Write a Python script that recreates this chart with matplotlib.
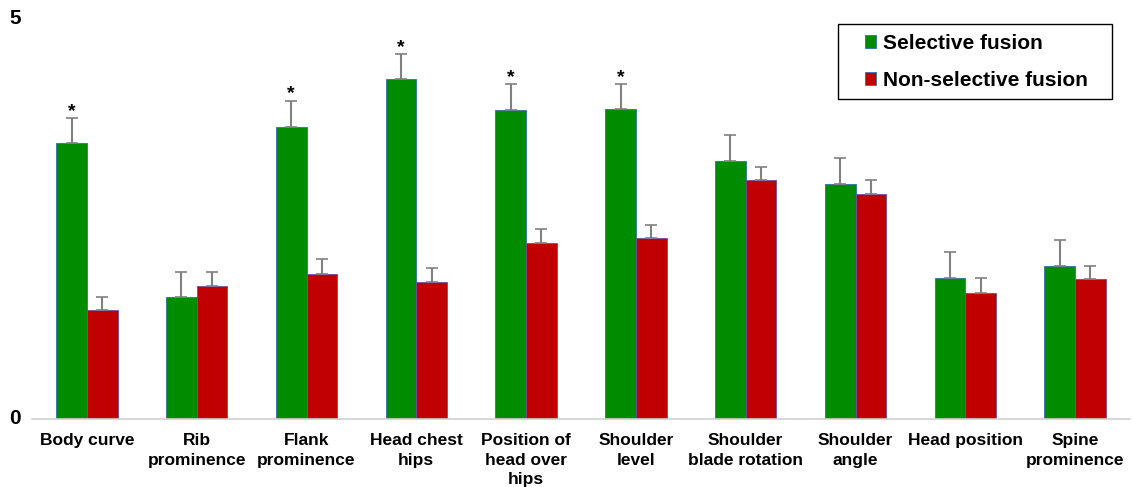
import numpy as np
import matplotlib
matplotlib.use('Agg')
import matplotlib.pyplot as plt
from matplotlib.patches import Rectangle
from matplotlib.transforms import ScaledTranslation

plt.rcParams['font.family'] = ['Liberation Sans', 'DejaVu Sans']

categories = ['Body curve', 'Rib\nprominence', 'Flank\nprominence', 'Head chest\nhips',
              'Position of\nhead over\nhips', 'Shoulder\nlevel', 'Shoulder\nblade rotation',
              'Shoulder\nangle', 'Head position', 'Spine\nprominence']
selective = [3.50, 1.54, 3.70, 4.31, 3.91, 3.93, 3.27, 2.98, 1.79, 1.94]
selective_err = [0.31, 0.32, 0.33, 0.31, 0.33, 0.31, 0.32, 0.32, 0.32, 0.32]
nonselective = [1.38, 1.68, 1.84, 1.73, 2.23, 2.29, 3.02, 2.85, 1.60, 1.77]
nonselective_err = [0.17, 0.18, 0.18, 0.18, 0.18, 0.17, 0.17, 0.18, 0.18, 0.17]
significant = [True, False, True, True, True, True, False, False, False, False]
yticks = [0, 5]

green = '#008C00'
red = '#C00000'

W, H = 1132, 487
fig = plt.figure(figsize=(W/100, H/100), dpi=100)
ax = fig.add_axes([32/W, 1-419/H, 1098/W, 395/H])

x = np.arange(len(categories))
w = 0.28
ax.bar(x - w/2, selective, w, color=green, edgecolor='#3070B0', linewidth=0.6,
       yerr=[np.zeros(len(x)), selective_err], ecolor='#808080',
       error_kw=dict(elinewidth=1.5, capsize=4, capthick=1.2), label='Selective fusion')
ax.bar(x + w/2, nonselective, w, color=red, edgecolor='#7050A0', linewidth=0.6,
       yerr=[np.zeros(len(x)), nonselective_err], ecolor='#808080',
       error_kw=dict(elinewidth=1.5, capsize=4, capthick=1.2), label='Non-selective fusion')

for i in range(len(x)):
    if significant[i]:
        ax.text(x[i] - w/2, selective[i] + selective_err[i] - 0.02, '*',
                ha='center', va='bottom', fontsize=14, fontweight='bold')

ax.set_xlim(-0.5, len(x) - 0.5)
ax.set_ylim(0, 5)
ax.set_yticks(yticks)
ax.set_yticklabels([])
# y labels as text so the top one can sit a little higher, like the original
for v in yticks:
    off = 6 if v == 5 else 0
    ax.text(-11/W * 0 - 0.0, v, str(v), fontsize=15, fontweight='bold', ha='right', va='center',
            transform=ax.get_yaxis_transform() + ScaledTranslation(-11/100, off/100, fig.dpi_scale_trans))
ax.set_xticks(x)
ax.set_xticklabels(categories, fontsize=12.5, fontweight='bold', linespacing=1.4)
ax.tick_params(axis='x', length=0, pad=10)
ax.tick_params(axis='y', length=0)
for s in ['top', 'right', 'left']:
    ax.spines[s].set_visible(False)
ax.spines['bottom'].set_color('#D0D0D0')
ax.spines['bottom'].set_linewidth(1.2)

# legend box drawn separately so the padding matches
fig.patches.append(Rectangle((838/W, 1-99/H), 274/W, 75/H, transform=fig.transFigure,
                             facecolor='white', edgecolor='black', linewidth=1.0, zorder=5))
leg = fig.legend(loc='upper left', bbox_to_anchor=(865/W, 1-34/H), bbox_transform=fig.transFigure,
                 prop=dict(weight='bold', size=15), frameon=False,
                 handlelength=0.55, handleheight=0.55,
                 handletextpad=0.3, labelspacing=0.85, borderpad=0, borderaxespad=0)
leg.set_zorder(6)
for h in leg.legend_handles:
    h.set_edgecolor('#3070B0')

fig.savefig('out.png', dpi=100)
